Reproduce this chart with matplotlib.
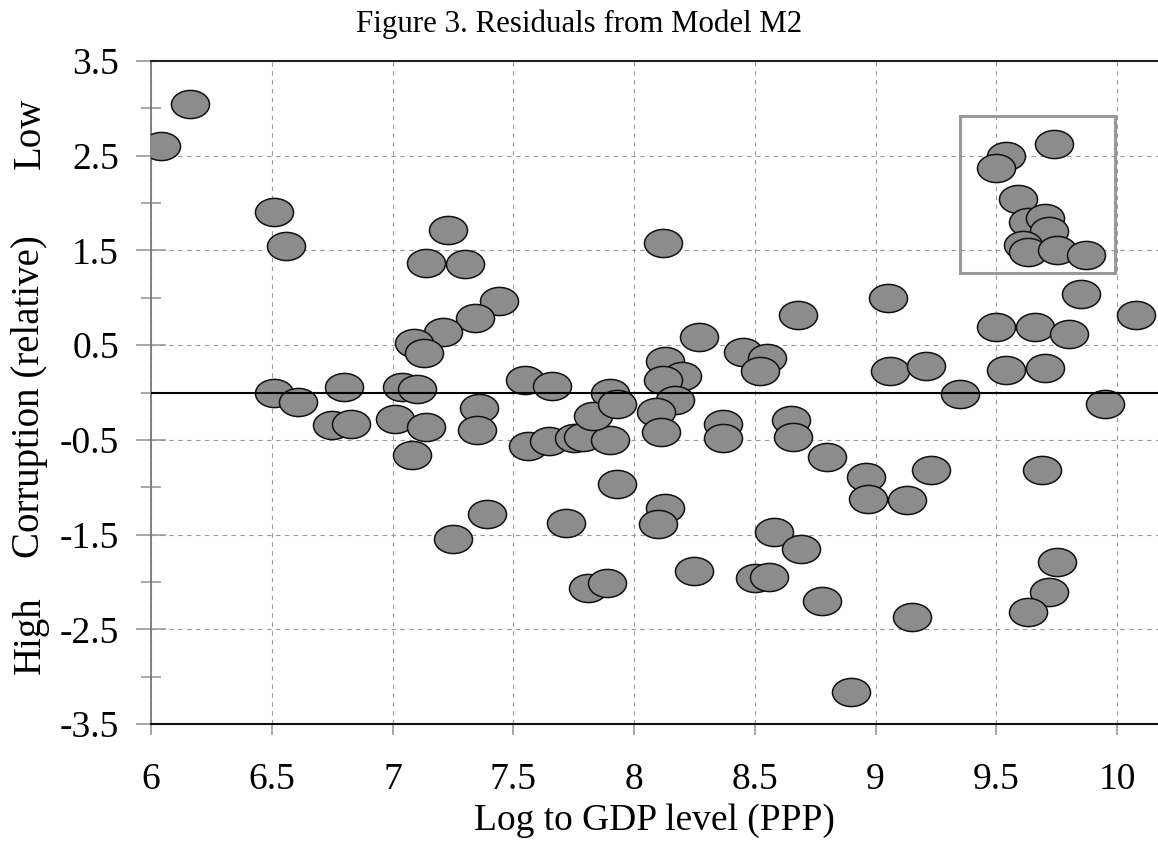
import matplotlib
matplotlib.use("Agg")
import matplotlib.pyplot as plt
from matplotlib.path import Path
from matplotlib.patches import Rectangle
import numpy as np

# residuals: log GDP (PPP) vs relative corruption
log_gdp = [6.04, 6.16, 6.51, 6.56, 6.51, 6.61, 6.75, 6.83, 6.80, 7.01,
           7.14, 7.08, 7.04, 7.10, 7.36, 7.35, 7.25, 7.39, 7.23, 7.14,
           7.30, 7.44, 7.34, 7.21, 7.09, 7.13, 8.12, 8.68, 8.27, 8.45,
           8.55, 8.52, 8.13, 8.20, 8.12, 7.55, 7.66, 7.90, 8.17, 7.56,
           7.65, 7.75, 7.79, 7.90, 7.83, 7.93, 8.09, 8.11, 7.93, 8.13,
           8.10, 7.72, 8.37, 8.37, 8.65, 8.66, 8.58, 8.69, 8.25, 8.50,
           8.56, 7.81, 7.89, 8.78, 9.35, 9.95, 8.80, 8.96, 8.97, 9.13,
           9.23, 9.69, 9.75, 9.72, 9.63, 9.15, 8.90, 9.05, 9.06, 9.21,
           9.50, 9.66, 9.80, 9.85, 10.08, 9.54, 9.70, 9.54, 9.50, 9.74,
           9.59, 9.63, 9.70, 9.72, 9.61, 9.63, 9.75, 9.87]
residual = [2.60, 3.05, 1.91, 1.55, 0.00, -0.10, -0.34, -0.33, 0.06, -0.28,
            -0.36, -0.66, 0.06, 0.04, -0.16, -0.40, -1.55, -1.28, 1.72, 1.37,
            1.36, 0.97, 0.79, 0.64, 0.52, 0.42, 1.58, 0.82, 0.59, 0.43,
            0.36, 0.23, 0.33, 0.17, 0.13, 0.13, 0.07, 0.00, -0.08, -0.57,
            -0.51, -0.48, -0.47, -0.50, -0.25, -0.12, -0.21, -0.42, -0.97, -1.22,
            -1.39, -1.38, -0.33, -0.48, -0.29, -0.47, -1.47, -1.65, -1.88, -1.96,
            -1.95, -2.06, -2.01, -2.20, -0.02, -0.12, -0.68, -0.89, -1.12, -1.13,
            -0.82, -0.82, -1.79, -2.11, -2.32, -2.37, -3.16, 1.00, 0.23, 0.28,
            0.69, 0.69, 0.62, 1.04, 0.82, 0.24, 0.26, 2.50, 2.37, 2.62,
            2.04, 1.80, 1.84, 1.70, 1.56, 1.48, 1.50, 1.45]

x_ticks = [6, 6.5, 7, 7.5, 8, 8.5, 9, 9.5, 10]
y_ticks = [3.5, 2.5, 1.5, 0.5, -0.5, -1.5, -2.5, -3.5]
y_minor = [3, 2, 1, 0, -1, -2, -3]

# highlighted cluster (x0, y0, x1, y1)
box = (9.35, 1.26, 9.99, 2.92)

plt.rcParams["font.family"] = ["Liberation Serif", "DejaVu Serif"]

fig = plt.figure(figsize=(11.58, 8.43), dpi=100)
ax = fig.add_axes([151 / 1158, 1 - 724 / 843, 1 - 151 / 1158, (724 - 61) / 843])

circ = Path.unit_circle()
ellipse = Path(circ.vertices * np.array([1.0, 0.74]), circ.codes)

ax.plot(log_gdp, residual, ls="none", marker=ellipse, ms=27.4,
        mfc="#8c8c8c", mec="#111111", mew=1.1, zorder=3)
ax.axhline(0, color="black", lw=1.5, zorder=4)

ax.add_patch(Rectangle((box[0], box[1]), box[2] - box[0], box[3] - box[1],
                       fill=False, ec="#999999", lw=2.2, zorder=5))

ax.set_xlim(6, 6 + 1007 / 241.5)
ax.set_ylim(-3.5, 3.5)
ax.set_xticks(x_ticks)
ax.set_xticklabels([f"{t:g}" for t in x_ticks])
ax.set_yticks(y_ticks)
ax.set_yticklabels([f"{t:g}" for t in y_ticks])
ax.set_yticks(y_minor, minor=True)

ax.grid(True, which="major", color="#999999", lw=0.8, ls=(0, (4, 4)), zorder=0)
ax.set_axisbelow(True)

ax.tick_params(axis="y", which="major", direction="inout", length=22,
               color="#999999", width=1.2, labelsize=27, pad=12)
ax.tick_params(axis="y", which="minor", direction="inout", length=14,
               color="#999999", width=1.2)
ax.tick_params(axis="x", which="major", direction="out", length=8,
               color="#999999", width=1.2, labelsize=27, pad=20)

ax.spines["left"].set_color("#777777")
ax.spines["left"].set_linewidth(1.3)
ax.spines["top"].set_color("#222222")
ax.spines["top"].set_linewidth(1.5)
ax.spines["bottom"].set_color("#111111")
ax.spines["bottom"].set_linewidth(1.5)
ax.spines["right"].set_visible(False)

ax.set_xlabel("Log to GDP level (PPP)", fontsize=27)
ax.xaxis.set_label_coords(0.5, -(821 - 724) / 663)
ax.xaxis.label.set_va("center")
fig.text(0.5, 1 - 24 / 843, "Figure 3. Residuals from Model M2",
         ha="center", va="center", fontsize=22.2)

fig.text(30 / 1158, 1 - 397 / 843, "Corruption (relative)", rotation=90,
         ha="center", va="center", fontsize=28)
fig.text(30 / 1158, 1 - 133 / 843, "Low", rotation=90,
         ha="center", va="center", fontsize=28)
fig.text(30 / 1158, 1 - 635 / 843, "High", rotation=90,
         ha="center", va="center", fontsize=28)

fig.savefig("out.png", dpi=100)
